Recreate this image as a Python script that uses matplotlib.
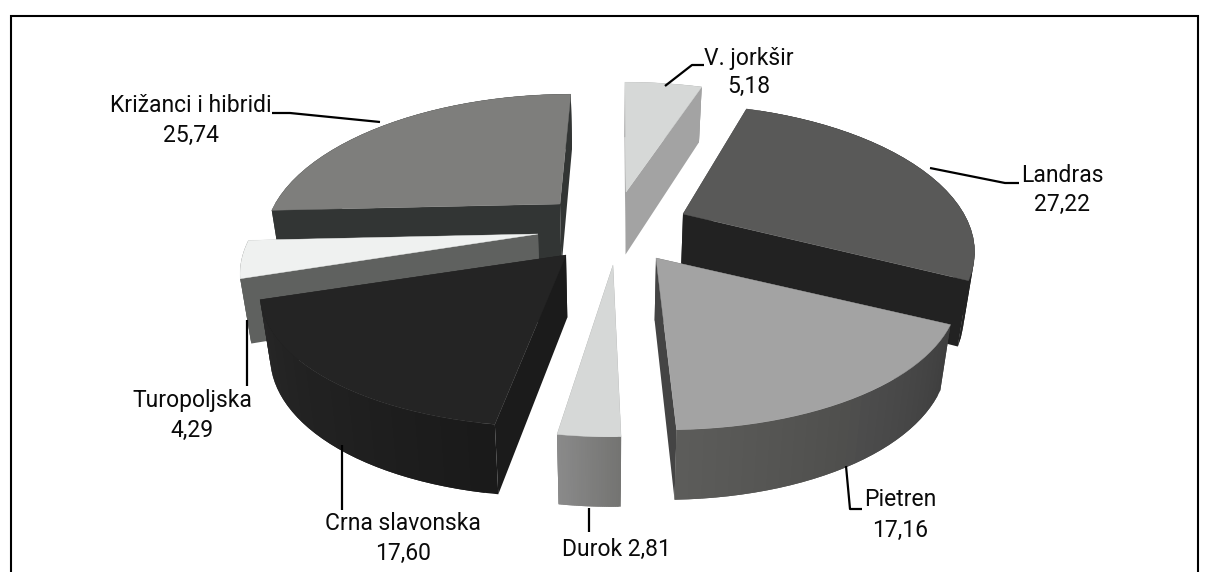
import numpy as np
import matplotlib
matplotlib.use("Agg")
import matplotlib.pyplot as plt
from matplotlib.patches import Polygon
from matplotlib.colors import to_rgb

# data (clockwise from twelve o'clock)
names = ["V. jorkšir", "Landras", "Pietren", "Durok", "Crna slavonska", "Turopoljska", "Križanci i hibridi"]
values = [5.18, 27.22, 17.16, 2.81, 17.60, 4.29, 25.74]
value_labels = ["5,18", "27,22", "17,16", "2,81", "17,60", "4,29", "25,74"]

# styling per slice
tips = [(626, 192), (683, 214), (656, 258), (613, 265), (566, 255), (538, 234), (560, 204)]
radii_x = [290, 281, 293, 285, 296, 286, 285]
top_col = ["#d6d8d7", "#595958", "#a3a3a3", "#d6d8d7", "#242424", "#eff1f0", "#7e7e7c"]
cut_col = ["#a3a3a3", "#222222", "#444444", "#808080", "#1b1b1b", "#5f615f", "#323534"]
wall_a = ["#a3a3a3", "#222222", "#3f3f3f", "#747472", "#1a1a1a", "#5f615f", "#323534"]
wall_b = ["#a3a3a3", "#222222", "#5c5c5a", "#8a8a8a", "#272727", "#5f615f", "#323534"]
draw_order = [6, 0, 5, 1, 2, 4, 3]

VX, RY, K = 620.0, 134.0, 0.22


def project(i, theta):
    X, Y = np.sin(theta), np.cos(theta)
    s = 1 / (1 + K * Y)
    tx, ty = tips[i]
    x = VX + (tx - VX) * s + X * radii_x[i] * s
    y = ty - Y * RY * s
    return x, y, Y


def drop(x, y, Y):
    return 610 + (x - 610) * 0.97, y + 62.5 - 7.5 * Y


def tip_drop(i):
    tx, ty = tips[i]
    return 610 + (tx - 610) * 0.97, ty + 62.5


fig = plt.figure(figsize=(12.09, 5.72), dpi=100)
ax = fig.add_axes([0, 0, 1, 1])
ax.set_xlim(0, 1209)
ax.set_ylim(572, 0)
ax.axis("off")

edges = np.radians(np.concatenate([[0], np.cumsum(values)]) / np.sum(values) * 360)

for i in draw_order:
    t0, t1 = edges[i], edges[i + 1]
    tx, ty = tips[i]
    bx, by = tip_drop(i)
    z = draw_order.index(i)
    # cut faces
    for t in (t0, t1):
        x, y, Y = project(i, t)
        xb, yb = drop(x, y, Y)
        ax.add_patch(Polygon([(tx, ty), (bx, by), (xb, yb), (x, y)], closed=True,
                             fc=cut_col[i], ec="none", zorder=1 + z))
    # outer wall: overlapping strips so no seams show between shades
    th = np.linspace(t0, t1, 30)
    ca, cb = np.array(to_rgb(wall_a[i])), np.array(to_rgb(wall_b[i]))
    for j in range(len(th) - 1):
        k = min(j + 2, len(th) - 1)
        x0, y0, Y0 = project(i, th[j])
        x1, y1, Y1 = project(i, th[k])
        xm, ym, Ym = project(i, th[j + 1])
        xb0, yb0 = drop(x0, y0, Y0)
        xb1, yb1 = drop(x1, y1, Y1)
        xbm, ybm = drop(xm, ym, Ym)
        c = ca + (cb - ca) * j / (len(th) - 2)
        ax.add_patch(Polygon([(x0, y0), (xm, ym), (x1, y1), (xb1, yb1), (xbm, ybm), (xb0, yb0)],
                             closed=True, fc=c, ec="none", zorder=1.3 + z + j * 0.001))
    # top face
    xs, ys, _ = project(i, th)
    pts = [(tx, ty)] + list(zip(xs, ys))
    ax.add_patch(Polygon(pts, closed=True, fc=top_col[i], ec=top_col[i], lw=0.3,
                         zorder=1.6 + z))

# leaders
leaders = [
    [(665, 86), (692, 65), (704, 65)],
    [(930, 168), (1005, 183), (1019, 183)],
    [(846, 466), (850, 509), (862, 509)],
    [(589, 508), (589, 532)],
    [(342, 445), (342, 510)],
    [(247, 320), (247, 386)],
    [(380, 122), (290, 113), (272, 113)],
]
for pts in leaders:
    p = np.array(pts)
    ax.plot(p[:, 0], p[:, 1], color="black", lw=1.6, zorder=20, solid_capstyle="butt")

# labels
font = ["Roboto", "Liberation Sans", "DejaVu Sans"]
FS = 16.5
name_pos = [(749, 58), (1062, 176), (900, 500), (616, 549), (403, 524), (192, 401), (191, 106)]
val_pos = [(749, 86), (1062, 204), (900, 530), None, (403, 553), (192, 430), (191, 135)]
for i in range(len(names)):
    if val_pos[i] is None:
        ax.text(*name_pos[i], f"{names[i]} {value_labels[i]}", ha="center", va="center",
                fontsize=FS, family=font, zorder=21, color="#0a0a0a")
    else:
        ax.text(*name_pos[i], names[i], ha="center", va="center", fontsize=FS,
                family=font, zorder=21, color="#0a0a0a")
        ax.text(*val_pos[i], value_labels[i], ha="center", va="center", fontsize=FS,
                family=font, zorder=21, color="#0a0a0a")

# chart frame
ax.plot([10.5, 10.5, 1197.5, 1197.5], [572, 16, 16, 572], color="black", lw=1.5, zorder=30,
        solid_joinstyle="miter")

fig.savefig("out.png", dpi=100, facecolor="white")
